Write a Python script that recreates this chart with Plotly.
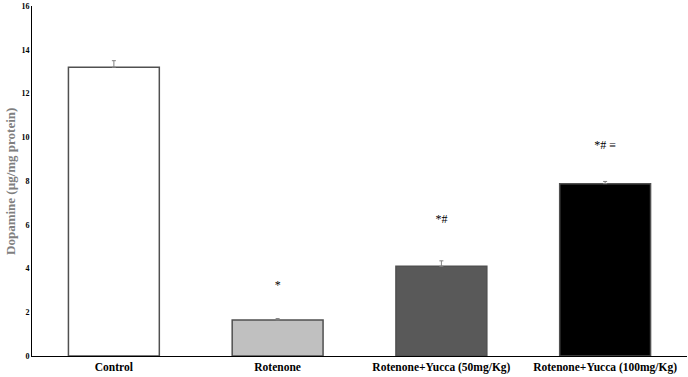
import plotly.graph_objects as go

categories = ["Control", "Rotenone", "Rotenone+Yucca (50mg/Kg)", "Rotenone+Yucca (100mg/Kg)"]
values = [13.2, 1.65, 4.1, 7.88]
errors = [0.3, 0.06, 0.25, 0.1]
labels = ["", "*", "*#", "*# ≡"]
label_y = [None, 3.2, 6.2, 9.6]
colors = ["#ffffff", "#c0c0c0", "#595959", "#000000"]
y_ticks = [0, 2, 4, 6, 8, 10, 12, 14, 16]

font_family = "Liberation Serif, Times New Roman, serif"

fig = go.Figure()
fig.add_trace(go.Bar(
    x=categories, y=values,
    marker=dict(color=colors, line=dict(color="#505050", width=1.5)),
    width=0.555,
    error_y=dict(type="data", array=errors, arrayminus=[0]*len(errors), symmetric=False,
                 color="#808080", thickness=1, width=2),
    showlegend=False,
))
lx = [c for c, l in zip(categories, labels) if l]
ly = [v for v, l in zip(label_y, labels) if l]
lt = [l for l in labels if l]
fig.add_trace(go.Scatter(
    x=lx, y=ly, mode="text", text=lt,
    textfont=dict(family=font_family, size=12, color="#000000"),
    showlegend=False, hoverinfo="skip",
))

fig.update_layout(
    width=688, height=377,
    margin=dict(l=32, r=1, t=6, b=21, autoexpand=False),
    paper_bgcolor="white", plot_bgcolor="white",
    font=dict(family=font_family),
    bargap=0.445,
)
fig.update_xaxes(
    showline=True, linecolor="#000000", linewidth=1, ticks="",
    tickfont=dict(family=font_family, size=11.5, color="#000000", weight="bold"),
    showgrid=False, automargin=False,
)
fig.update_yaxes(
    range=[0, 16], tickvals=y_ticks, showline=True, linecolor="#000000", linewidth=1,
    ticks="", showgrid=False, zeroline=False, automargin=False,
    tickfont=dict(family=font_family, size=8, color="#000000", weight="bold"),
)
fig.add_annotation(
    text="Dopamine (µg/mg protein)", textangle=-90,
    xref="paper", yref="paper", x=-0.0336, y=0.5,
    xanchor="center", yanchor="middle", showarrow=False,
    font=dict(family=font_family, size=13, color="#7f7f7f", weight="bold"),
)

fig.write_html("out.html", config={"displayModeBar": False},
               post_script="document.body.style.margin='0';")
